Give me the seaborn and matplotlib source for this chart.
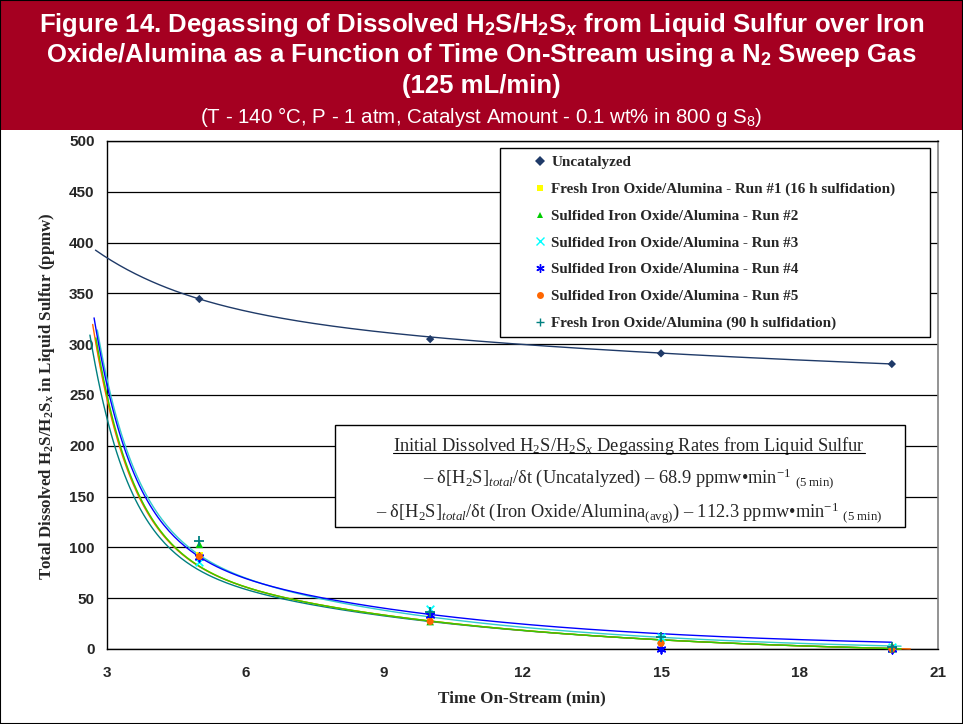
import numpy as np
import pandas as pd
import matplotlib
matplotlib.use("Agg")
import matplotlib.pyplot as plt
from matplotlib import font_manager
from matplotlib.lines import Line2D
from matplotlib.patches import Rectangle
from matplotlib.transforms import IdentityTransform
import seaborn as sns

# ---------------------------------------------------------------- data
series_names = [
    "Uncatalyzed",
    "Fresh Iron Oxide/Alumina - Run #1 (16 h sulfidation)",
    "Sulfided Iron Oxide/Alumina - Run #2",
    "Sulfided Iron Oxide/Alumina - Run #3",
    "Sulfided Iron Oxide/Alumina - Run #4",
    "Sulfided Iron Oxide/Alumina - Run #5",
    "Fresh Iron Oxide/Alumina (90 h sulfidation)",
]
sample_times = [5, 10, 15, 20]
uncatalyzed = [344.5, 305, 291, 280.5]
fresh_run1 = [92.5, 30, 7, 2]
sulfided_run2 = [103, 27, 9, 0]
sulfided_run3 = [86, 39, 12, 2]
sulfided_run4 = [90.5, 33.5, 0, 0]
sulfided_run5 = [91, 27, 5.5, 0]
fresh_90h = [106.6, 36, 12, 2]
series_values = [uncatalyzed, fresh_run1, sulfided_run2, sulfided_run3,
                 sulfided_run4, sulfided_run5, fresh_90h]

# two-stage (fast + slow) degassing trend, referenced to t = 3 min
trend_fast_amp = [52.2, 153.0, 155.3, 153.8, 153.3, 151.0, 136.7]
trend_fast_rate = [0.46, 1.20, 1.21, 1.20, 1.20, 1.21, 1.20]
trend_slow_amp = [83.8, 101.5, 101.5, 115.2, 106.4, 101.5, 97.4]
trend_slow_rate = [0.0575, 0.155, 0.155, 0.171, 0.163, 0.155, 0.150]
trend_offset = [249.0, -6.8, -6.8, -3.3, 0.0, -6.8, -7.1]
trend_start = [2.75, 2.75, 2.76, 2.79, 2.72, 2.69, 2.63]
trend_end = [20.0, 20.2, 20.2, 20.2, 20.0, 20.4, 20.0]

x_ticks = [3, 6, 9, 12, 15, 18, 21]
y_ticks = [0, 50, 100, 150, 200, 250, 300, 350, 400, 450, 500]

# ---------------------------------------------------------------- style
marker_colors = ["#1F3A68", "#FFFF00", "#00CC00", "#00FFFF", "#0000FF", "#FF6600", "#008080"]
line_colors = ["#1F3A68", "#FFFF00", "#33CC00", "#33CCCC", "#0000FF", "#FF6600", "#008080"]
marker_shapes = ["D", "s", "^", "x", (6, 2, 0), "o", "+"]
marker_sizes = [18, 22, 30, 30, 36, 26, 44]
line_markers = ("x", "+", (6, 2, 0))

sns.set_style("white")
plt.rcParams["font.family"] = ["Liberation Sans", "DejaVu Sans"]
plt.rcParams["mathtext.fontset"] = "custom"
plt.rcParams["mathtext.it"] = "Liberation Serif:italic"
plt.rcParams["mathtext.bf"] = "Liberation Serif:bold:italic"
plt.rcParams["mathtext.sf"] = "Liberation Sans:bold:italic"
plt.rcParams["mathtext.rm"] = "Liberation Serif"

W, H = 963, 724
fig = plt.figure(figsize=(W / 100, H / 100), dpi=100)
fig.patch.set_facecolor("white")


def fx(px):
    return px / W


def fy(py):
    return 1 - py / H


# title band
fig.add_artist(Rectangle((0, fy(130)), 1, 130 / H, transform=fig.transFigure,
                         facecolor="#A50021", edgecolor="none", zorder=0))
title_lines = [
    r"Figure 14. Degassing of Dissolved H$_\mathregular{2}$S/H$_\mathregular{2}$S$_\mathsf{x}$ from Liquid Sulfur over Iron",
    r"Oxide/Alumina as a Function of Time On-Stream using a N$_\mathregular{2}$ Sweep Gas",
    "(125 mL/min)",
]
for text, py in zip(title_lines, [25, 55, 86]):
    fig.text(0.5, fy(py), text, ha="center", va="center", color="white",
             fontsize=18.5, fontweight="bold", family="Liberation Sans")
fig.text(0.5, fy(117), r"(T - 140 °C, P - 1 atm, Catalyst Amount - 0.1 wt% in 800 g S$_\mathregular{8}$)",
         ha="center", va="center", color="white", fontsize=14.8, family="Liberation Sans")

# ---------------------------------------------------------------- axes
ax = fig.add_axes([fx(107), fy(649), (938 - 107) / W, (649 - 141) / H])
ax.set_facecolor("white")

# trend curves
curve_frames = []
for i, name in enumerate(series_names):
    t = np.linspace(trend_start[i], trend_end[i], 300)
    y = (trend_fast_amp[i] * np.exp(-trend_fast_rate[i] * (t - 3))
         + trend_slow_amp[i] * np.exp(-trend_slow_rate[i] * (t - 3))
         + trend_offset[i])
    curve_frames.append(pd.DataFrame({"series": name, "t": t, "y": y}))
curves = pd.concat(curve_frames, ignore_index=True)

draw_order = [0, 1, 6, 5, 2, 3, 4]
for i in draw_order:
    sub = curves[curves["series"] == series_names[i]]
    sns.lineplot(data=sub, x="t", y="y", color=line_colors[i], lw=1.0,
                 estimator=None, sort=False, ax=ax, legend=False, clip_on=False, zorder=3)

# measured points
points = pd.DataFrame({
    "series": np.repeat(series_names, len(sample_times)),
    "t": sample_times * len(series_names),
    "value": np.concatenate(series_values),
})
for i, name in enumerate(series_names):
    sub = points[points["series"] == name]
    if marker_shapes[i] in line_markers:
        kw = dict(linewidth=1.3, edgecolor=marker_colors[i])
    else:
        kw = dict(edgecolor="none")
    sns.scatterplot(data=sub, x="t", y="value", marker=marker_shapes[i], color=marker_colors[i],
                    s=marker_sizes[i], ax=ax, legend=False, zorder=5, clip_on=False, **kw)

ax.set_xlim(3, 21)
ax.set_ylim(0, 500)
ax.set_xticks(x_ticks)
ax.set_yticks(y_ticks)
ax.yaxis.grid(True, color="black", lw=0.9)
ax.xaxis.grid(False)
ax.set_axisbelow(True)
for side in ["left", "bottom", "top"]:
    ax.spines[side].set_color("black")
    ax.spines[side].set_linewidth(1.0)
ax.spines["right"].set_color("#808080")
ax.spines["right"].set_linewidth(1.2)
ax.tick_params(axis="both", direction="out", length=5, width=1, color="black",
               labelsize=11, pad=4)
for lab in ax.get_xticklabels() + ax.get_yticklabels():
    lab.set_fontweight("bold")
    lab.set_family("Liberation Sans")
ax.tick_params(axis="x", pad=7)

ax.set_xlabel("")
ax.set_ylabel("")
fig.text(fx(522), fy(698), "Time On-Stream (min)", ha="center", va="center",
         fontsize=12.3, fontweight="bold", family="Liberation Serif")
fig.text(fx(47), fy(396),
         r"Total Dissolved H$_\mathregular{2}$S/H$_\mathregular{2}$S$_\mathbf{x}$ in Liquid Sulfur (ppmw)",
         ha="center", va="center", rotation=90, fontsize=12.2, fontweight="bold",
         family="Liberation Serif")

# ---------------------------------------------------------------- legend
fig.add_artist(Rectangle((fx(500), fy(337)), (930 - 500) / W, (337 - 148) / H,
                         transform=fig.transFigure, facecolor="white",
                         edgecolor="black", lw=1.0, zorder=6))
handles = []
for i, name in enumerate(series_names):
    is_line = marker_shapes[i] in line_markers
    handles.append(Line2D([], [], linestyle="none", marker=marker_shapes[i],
                          color=marker_colors[i], markersize=6 if is_line else 5,
                          markeredgewidth=1.0 if is_line else 0, label=name))
leg = fig.legend(handles=handles, loc="upper left", bbox_to_anchor=(fx(534), fy(155.5)),
                 frameon=False, handlelength=0.8, handletextpad=0.35, labelspacing=0.87,
                 borderpad=0, borderaxespad=0,
                 prop=font_manager.FontProperties(family="Liberation Serif", weight="bold", size=10.9))
leg.set_zorder(7)

# ---------------------------------------------------------------- rate box
fig.add_artist(Rectangle((fx(335), fy(527)), (905 - 335) / W, (527 - 425) / H,
                         transform=fig.transFigure, facecolor="white",
                         edgecolor="black", lw=1.0, zorder=6))
box_size = 13.2
box_cx = fx(629)
head = fig.text(box_cx, fy(451),
                r"Initial Dissolved H$_\mathregular{2}$S/H$_\mathregular{2}$S$_\mathit{x}$ Degassing Rates from Liquid Sulfur",
                ha="center", va="baseline", fontsize=box_size, family="Liberation Serif", zorder=7)
fig.text(box_cx, fy(484),
         r"– δ[H$_\mathregular{2}$S]$_\mathit{total}$/δt (Uncatalyzed) – 68.9 ppmw•min$^\mathregular{-1}$ $_\mathregular{(5\ min)}$",
         ha="center", va="baseline", fontsize=box_size, family="Liberation Serif", zorder=7)
fig.text(box_cx, fy(517),
         r"– δ[H$_\mathregular{2}$S]$_\mathit{total}$/δt (Iron Oxide/Alumina$_\mathregular{(avg)}$) – 112.3 ppmw•min$^\mathregular{-1}$ $_\mathregular{(5\ min)}$",
         ha="center", va="baseline", fontsize=box_size, family="Liberation Serif", zorder=7)

fig.canvas.draw()
bb = head.get_window_extent()
base_y = fig.transFigure.transform((0, fy(451)))[1]
fig.add_artist(Line2D([bb.x0, bb.x1], [base_y - 2, base_y - 2], transform=IdentityTransform(),
                      color="black", lw=0.8, zorder=8))

# outer frame
fig.add_artist(Rectangle((0, 0), 1, 1, transform=fig.transFigure, fill=False,
                         edgecolor="black", lw=1.5, zorder=10))

fig.savefig("out.png", dpi=100)
